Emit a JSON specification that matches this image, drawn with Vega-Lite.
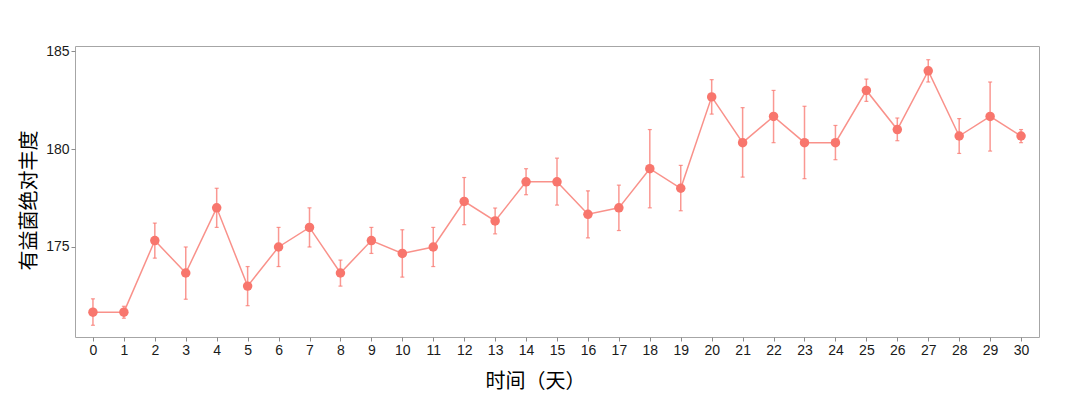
{
  "$schema": "https://vega.github.io/schema/vega-lite/v6.json",
  "width": 964,
  "height": 291,
  "autosize": "none",
  "padding": {"left": 75, "top": 46, "right": 41, "bottom": 71},
  "background": "white",
  "config": {
    "view": {"stroke": "#a6a6a6", "strokeWidth": 1},
    "font": "Liberation Sans, Noto Sans CJK SC, sans-serif",
    "axis": {
      "grid": false,
      "domain": false,
      "tickColor": "#8c8c8c",
      "tickSize": 4,
      "labelFontSize": 14,
      "labelColor": "#1a1a1a",
      "labelFont": "Liberation Sans, sans-serif",
      "titleFont": "Noto Sans CJK SC, sans-serif",
      "titleFontSize": 20,
      "titleFontWeight": "normal",
      "titleColor": "#000000"
    }
  },
  "data": {
    "values": [
      {"day": 0, "mean": 171.67, "lo": 171.0, "hi": 172.35},
      {"day": 1, "mean": 171.67, "lo": 171.36, "hi": 171.97},
      {"day": 2, "mean": 175.33, "lo": 174.43, "hi": 176.22},
      {"day": 3, "mean": 173.67, "lo": 172.33, "hi": 175.0},
      {"day": 4, "mean": 177.0, "lo": 176.0, "hi": 178.0},
      {"day": 5, "mean": 173.0, "lo": 172.0, "hi": 174.0},
      {"day": 6, "mean": 175.0, "lo": 174.0, "hi": 176.0},
      {"day": 7, "mean": 176.0, "lo": 175.0, "hi": 177.0},
      {"day": 8, "mean": 173.67, "lo": 173.0, "hi": 174.33},
      {"day": 9, "mean": 175.33, "lo": 174.67, "hi": 176.0},
      {"day": 10, "mean": 174.67, "lo": 173.46, "hi": 175.88},
      {"day": 11, "mean": 175.0, "lo": 174.0, "hi": 176.0},
      {"day": 12, "mean": 177.33, "lo": 176.14, "hi": 178.55},
      {"day": 13, "mean": 176.33, "lo": 175.67, "hi": 176.99},
      {"day": 14, "mean": 178.33, "lo": 177.67, "hi": 179.0},
      {"day": 15, "mean": 178.33, "lo": 177.14, "hi": 179.54},
      {"day": 16, "mean": 176.67, "lo": 175.47, "hi": 177.87},
      {"day": 17, "mean": 177.0, "lo": 175.84, "hi": 178.16},
      {"day": 18, "mean": 179.0, "lo": 177.0, "hi": 181.0},
      {"day": 19, "mean": 178.0, "lo": 176.85, "hi": 179.17},
      {"day": 20, "mean": 182.67, "lo": 181.79, "hi": 183.55},
      {"day": 21, "mean": 180.33, "lo": 178.57, "hi": 182.12},
      {"day": 22, "mean": 181.67, "lo": 180.33, "hi": 183.0},
      {"day": 23, "mean": 180.33, "lo": 178.49, "hi": 182.19},
      {"day": 24, "mean": 180.33, "lo": 179.46, "hi": 181.21},
      {"day": 25, "mean": 183.0, "lo": 182.44, "hi": 183.58},
      {"day": 26, "mean": 181.0, "lo": 180.43, "hi": 181.59},
      {"day": 27, "mean": 184.0, "lo": 183.43, "hi": 184.57},
      {"day": 28, "mean": 180.67, "lo": 179.78, "hi": 181.56},
      {"day": 29, "mean": 181.67, "lo": 179.9, "hi": 183.43},
      {"day": 30, "mean": 180.67, "lo": 180.33, "hi": 181.0}
    ]
  },
  "encoding": {
    "x": {
      "field": "day",
      "type": "quantitative",
      "scale": {"domain": [-0.58, 30.58], "nice": false, "zero": false},
      "axis": {
        "values": [0,1,2,3,4,5,6,7,8,9,10,11,12,13,14,15,16,17,18,19,20,21,22,23,24,25,26,27,28,29,30],
        "labelPadding": 2,
        "title": "时间（天）",
        "titlePadding": 14,
        "titleX": 460
      }
    }
  },
  "layer": [
    {
      "mark": {"type": "line", "color": "#F8766D", "opacity": 0.8, "strokeWidth": 1.5},
      "encoding": {
        "y": {
          "field": "mean",
          "type": "quantitative",
          "scale": {"domain": [170.4, 185.27], "nice": false, "zero": false},
          "axis": {
            "values": [175, 180, 185],
            "labelPadding": 2,
            "title": "有益菌绝对丰度",
            "titlePadding": 6,
            "titleY": 154
          }
        }
      }
    },
    {
      "mark": {"type": "rule", "color": "#F8766D", "opacity": 0.75, "strokeWidth": 1.5},
      "encoding": {
        "y": {"field": "lo", "type": "quantitative"},
        "y2": {"field": "hi"}
      }
    },
    {
      "mark": {"type": "tick", "orient": "horizontal", "color": "#F8766D", "opacity": 0.75, "size": 4, "thickness": 1.2},
      "encoding": {
        "y": {"field": "lo", "type": "quantitative"}
      }
    },
    {
      "mark": {"type": "tick", "orient": "horizontal", "color": "#F8766D", "opacity": 0.75, "size": 4, "thickness": 1.2},
      "encoding": {
        "y": {"field": "hi", "type": "quantitative"}
      }
    },
    {
      "mark": {"type": "point", "filled": true, "color": "#F8766D", "opacity": 1, "size": 90},
      "encoding": {
        "y": {"field": "mean", "type": "quantitative"}
      }
    }
  ]
}
